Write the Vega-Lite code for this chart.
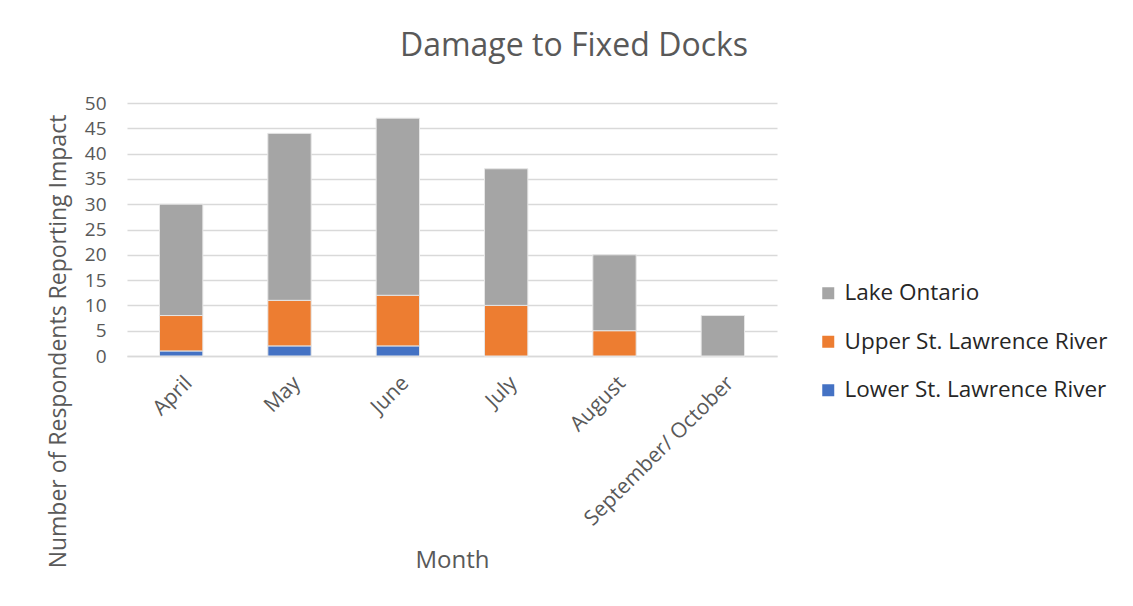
{
  "$schema": "https://vega.github.io/schema/vega-lite/v6.json",
  "width": 650,
  "height": 253,
  "autosize": {"type": "none"},
  "padding": {"left": 127, "top": 103, "right": 356, "bottom": 250},
  "background": "white",
  "title": {
    "text": "Damage to Fixed Docks",
    "font": "Open Sans",
    "fontSize": 32,
    "fontWeight": "normal",
    "color": "#595959",
    "anchor": "middle",
    "dx": 122,
    "offset": 31
  },
  "data": {
    "values": [
      {"month": "April", "region": "Lower St. Lawrence River", "count": 1},
      {"month": "April", "region": "Upper St. Lawrence River", "count": 7},
      {"month": "April", "region": "Lake Ontario", "count": 22},
      {"month": "May", "region": "Lower St. Lawrence River", "count": 2},
      {"month": "May", "region": "Upper St. Lawrence River", "count": 9},
      {"month": "May", "region": "Lake Ontario", "count": 33},
      {"month": "June", "region": "Lower St. Lawrence River", "count": 2},
      {"month": "June", "region": "Upper St. Lawrence River", "count": 10},
      {"month": "June", "region": "Lake Ontario", "count": 35},
      {"month": "July", "region": "Lower St. Lawrence River", "count": 0},
      {"month": "July", "region": "Upper St. Lawrence River", "count": 10},
      {"month": "July", "region": "Lake Ontario", "count": 27},
      {"month": "August", "region": "Lower St. Lawrence River", "count": 0},
      {"month": "August", "region": "Upper St. Lawrence River", "count": 5},
      {"month": "August", "region": "Lake Ontario", "count": 15},
      {"month": "September/ October", "region": "Lower St. Lawrence River", "count": 0},
      {"month": "September/ October", "region": "Upper St. Lawrence River", "count": 0},
      {"month": "September/ October", "region": "Lake Ontario", "count": 8}
    ]
  },
  "transform": [
    {"calculate": "indexof(['Lower St. Lawrence River', 'Upper St. Lawrence River', 'Lake Ontario'], datum.region)", "as": "stackOrder"}
  ],
  "mark": {"type": "bar", "stroke": "#e6e6e6", "strokeWidth": 1},
  "encoding": {
    "x": {
      "field": "month",
      "type": "nominal",
      "sort": ["April", "May", "June", "July", "August", "September/ October"],
      "scale": {"paddingInner": 0.6, "paddingOuter": 0.3},
      "axis": {
        "title": "Month",
        "titleFont": "Open Sans",
        "titleFontSize": 24,
        "titleFontWeight": "normal",
        "titleColor": "#595959",
        "titleY": 204,
        "titleBaseline": "middle",
        "labelFont": "Open Sans",
        "labelFontSize": 21,
        "labelColor": "#595959",
        "labelAngle": -45,
        "labelPadding": 16,
        "labelLimit": 0,
        "ticks": false,
        "domainColor": "#d9d9d9",
        "domainWidth": 1.5
      }
    },
    "y": {
      "field": "count",
      "type": "quantitative",
      "scale": {"domain": [0, 50]},
      "axis": {
        "title": "Number of Respondents Reporting Impact",
        "titleFont": "Open Sans",
        "titleFontSize": 23,
        "titleFontWeight": "normal",
        "titleColor": "#595959",
        "titleX": -69,
        "titleY": 238,
        "titleAngle": -90,
        "titleAlign": "center",
        "titleBaseline": "middle",
        "titleLimit": 0,
        "values": [0, 5, 10, 15, 20, 25, 30, 35, 40, 45, 50],
        "labelFont": "Open Sans",
        "labelFontSize": 19,
        "labelColor": "#595959",
        "labelPadding": 21,
        "ticks": false,
        "domain": false,
        "gridColor": "#d9d9d9",
        "gridWidth": 1.5
      }
    },
    "order": {"field": "stackOrder", "type": "quantitative", "sort": "ascending"},
    "color": {
      "field": "region",
      "type": "nominal",
      "scale": {
        "domain": ["Lake Ontario", "Upper St. Lawrence River", "Lower St. Lawrence River"],
        "range": ["#A5A5A5", "#ED7D31", "#4472C4"]
      },
      "legend": {
        "title": null,
        "orient": "none",
        "legendX": 690,
        "legendY": 179,
        "symbolType": "square",
        "symbolSize": 144,
        "symbolStrokeWidth": 0,
        "labelFont": "Open Sans",
        "labelFontSize": 22.5,
        "labelColor": "#262626",
        "labelOffset": 5,
        "labelLimit": 0,
        "rowPadding": 25.5
      }
    }
  },
  "config": {"view": {"stroke": null}}
}
